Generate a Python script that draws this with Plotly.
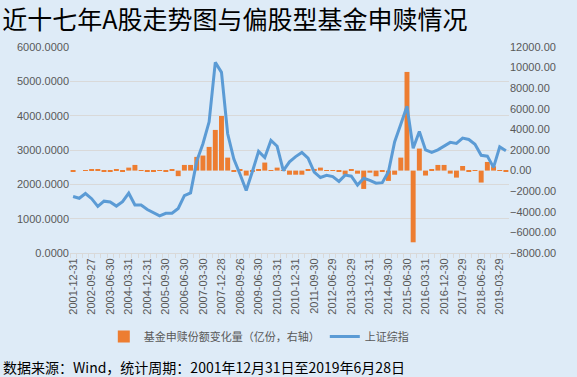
import plotly.graph_objects as go

dates = [
    "2001-12-31", "2002-03-29", "2002-06-28", "2002-09-27", "2002-12-31",
    "2003-03-31", "2003-06-30", "2003-09-30", "2003-12-31",
    "2004-03-31", "2004-06-30", "2004-09-30", "2004-12-31",
    "2005-03-31", "2005-06-30", "2005-09-30", "2005-12-30",
    "2006-03-31", "2006-06-30", "2006-09-29", "2006-12-29",
    "2007-03-30", "2007-06-29", "2007-09-28", "2007-12-28",
    "2008-03-31", "2008-06-30", "2008-09-26", "2008-12-31",
    "2009-03-31", "2009-06-30", "2009-09-30", "2009-12-31",
    "2010-03-31", "2010-06-30", "2010-09-30", "2010-12-31",
    "2011-03-31", "2011-06-30", "2011-09-30", "2011-12-30",
    "2012-03-30", "2012-06-29", "2012-09-28", "2012-12-31",
    "2013-03-29", "2013-06-28", "2013-09-30", "2013-12-31",
    "2014-03-31", "2014-06-30", "2014-09-30", "2014-12-31",
    "2015-03-31", "2015-06-30", "2015-09-30", "2015-12-31",
    "2016-03-31", "2016-06-30", "2016-09-30", "2016-12-30",
    "2017-03-31", "2017-06-30", "2017-09-29", "2017-12-29",
    "2018-03-30", "2018-06-29", "2018-09-28", "2018-12-28",
    "2019-03-29", "2019-06-28",
]

sh_index = [
    1646, 1595, 1733, 1582, 1358,
    1510, 1486, 1367, 1497,
    1742, 1399, 1397, 1267,
    1181, 1081, 1156, 1161,
    1298, 1672, 1752, 2676,
    3184, 3821, 5552, 5262,
    3473, 2736, 2294, 1821,
    2373, 2959, 2779, 3277,
    3109, 2398, 2656, 2808,
    2928, 2762, 2359, 2199,
    2263, 2225, 2086, 2269,
    2237, 1979, 2175, 2116,
    2033, 2048, 2364, 3235,
    3748, 4277, 3053, 3539,
    3004, 2930, 3005, 3104,
    3222, 3192, 3349, 3307,
    3169, 2847, 2821, 2494,
    3091, 2979,
]

fund_change = [
    -40, 0, 30, 80, 80,
    -40, -40, 150, -40,
    290, 550, -30, -60,
    -60, 40, -60, 100,
    -540, 550, 550, 1330,
    1460, 2300, 3950, 5300,
    1260, -100, 80, -480,
    -80, 60, 780, 30,
    290, 20, -400, -400,
    -400, 100, 160, 290,
    30, 30, -60, -400,
    100, -300, -1780, -200,
    -550, -50, -1000, -400,
    1260, 9580, -6960, 2140,
    -480, 100, 550, 550,
    -290, -680, 450, -100,
    50, -1160, 840, 420,
    50, -80,
]

ticktext = [d if i % 3 == 0 else "" for i, d in enumerate(dates)]

gray = "#595959"
grid = "#D9D9D9"
lat = "Liberation Sans, Arial, Noto Sans CJK SC, sans-serif"
cjk = "Noto Sans CJK SC, sans-serif"

fig = go.Figure()
fig.add_trace(go.Bar(
    x=dates, y=fund_change, name="基金申赎份额变化量（亿份，右轴）",
    marker=dict(color="#ED7D31", line=dict(width=0)),
    yaxis="y",
))
fig.add_trace(go.Scatter(
    x=dates, y=sh_index, name="上证综指", mode="lines",
    line=dict(color="#5B9BD5", width=3),
    yaxis="y2",
))

fig.update_layout(
    width=577, height=377,
    margin=dict(l=70, r=68, t=47, b=124),
    paper_bgcolor="#DEEBF7", plot_bgcolor="#DEEBF7",
    bargap=0.2,
    showlegend=True,
    title=dict(
        text="近十七年A股走势图与偏股型基金申赎情况",
        font=dict(family=cjk, size=25, color="#000000"),
        xref="container", x=0.004, xanchor="left",
        yref="container", y=0.947, yanchor="middle",
    ),
    xaxis=dict(
        type="category", tickmode="array", tickvals=dates, ticktext=ticktext,
        tickangle=-90, tickfont=dict(family=lat, size=11, color=gray),
        showline=True, linecolor=grid, linewidth=1,
        ticks="outside", ticklen=4, tickcolor=grid, tickson="boundaries",
        showgrid=False, zeroline=False,
        range=[-0.5, len(dates) - 0.5],
    ),
    yaxis=dict(
        side="right", range=[-8000, 12000], dtick=2000, tick0=-8000,
        tickformat=".2f", tickfont=dict(family=lat, size=11, color=gray),
        showgrid=False, zeroline=False, showline=False, ticks="",
    ),
    yaxis2=dict(
        side="left", overlaying="y", range=[0, 6000], dtick=1000,
        tickformat=".4f", tickfont=dict(family=lat, size=11, color=gray),
        showgrid=True, gridcolor=grid, gridwidth=1, zeroline=False,
        showline=False, ticks="",
    ),
    legend=dict(
        orientation="h", x=0.077, xanchor="left", y=-0.405, yanchor="middle",
        font=dict(family=cjk, size=11, color=gray),
        bgcolor="rgba(0,0,0,0)", itemwidth=30,
    ),
    annotations=[dict(
        text="数据来源：Wind，统计周期：2001年12月31日至2019年6月28日",
        xref="paper", yref="paper", x=-0.158, y=-0.553,
        xanchor="left", yanchor="middle", showarrow=False,
        font=dict(family=cjk, size=14, color="#000000"),
    )],
)

fig.write_html(
    "out.html",
    config={"displayModeBar": False},
    post_script="document.body.style.margin='0';document.body.style.background='#DEEBF7';",
)
